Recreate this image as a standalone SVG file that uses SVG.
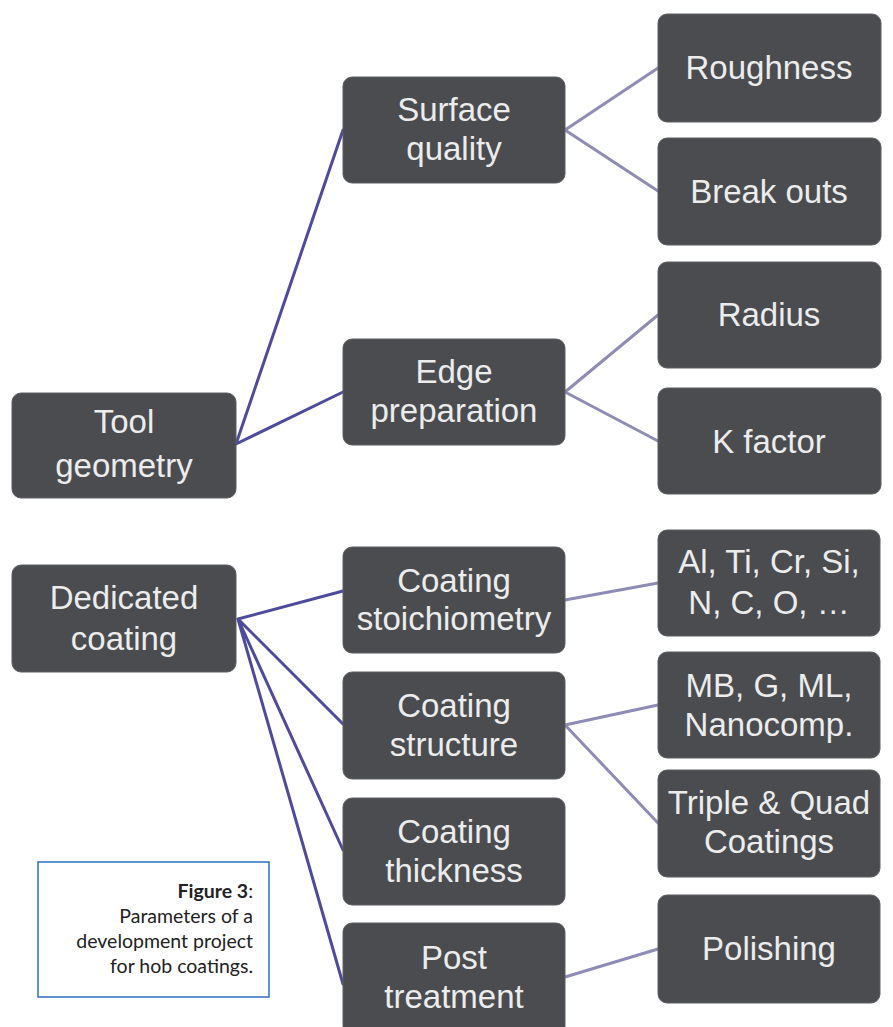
<svg xmlns="http://www.w3.org/2000/svg" width="893" height="1027" viewBox="0 0 893 1027">
<style>
.box{fill:#4a4c50;stroke:#5c5e62;stroke-width:1}
.t{fill:#ececec;font-family:"Liberation Sans",Arial,sans-serif;font-size:33px;text-anchor:middle}
.c1{stroke:#4e4b9c;stroke-width:3;fill:none;stroke-linecap:round}
.c2{stroke:#8e8cb4;stroke-width:3;fill:none;stroke-linecap:round}
.cap{font-family:Lato,"Open Sans",sans-serif;font-size:19.5px;fill:#222;text-anchor:end}
</style>
<rect width="893" height="1027" fill="#ffffff"/>
<g id="connectors">
<path class="c1" d="M236 444 L343 130 M236 444 L343 392"/>
<path class="c2" d="M565 130 L658 68 M565 130 L658 191"/>
<path class="c2" d="M565 392 L658 315 M565 392 L658 441"/>
<path class="c1" d="M238 619 L343 591 M238 619 L343 724 M238 619 L343 850 M238 619 L343 984"/>
<path class="c2" d="M565 600 L658 583"/>
<path class="c2" d="M565 725 L658 705 M565 725 L658 823"/>
<path class="c2" d="M565 977 L658 949"/>
</g>
<g id="tool-geometry"><rect class="box" x="12" y="393" width="224" height="105" rx="9"/><text class="t" x="124" y="433">Tool</text><text class="t" x="124" y="477">geometry</text></g>
<g id="surface-quality"><rect class="box" x="343" y="77" width="222" height="106" rx="9"/><text class="t" x="454" y="121">Surface</text><text class="t" x="454" y="160">quality</text></g>
<g id="roughness"><rect class="box" x="658" y="14" width="223" height="108" rx="9"/><text class="t" x="769" y="79">Roughness</text></g>
<g id="break-outs"><rect class="box" x="658" y="138" width="223" height="107" rx="9"/><text class="t" x="769" y="203">Break outs</text></g>
<g id="edge-preparation"><rect class="box" x="343" y="339" width="222" height="106" rx="9"/><text class="t" x="454" y="383">Edge</text><text class="t" x="454" y="422">preparation</text></g>
<g id="radius"><rect class="box" x="658" y="262" width="223" height="106" rx="9"/><text class="t" x="769" y="326">Radius</text></g>
<g id="k-factor"><rect class="box" x="658" y="388" width="223" height="106" rx="9"/><text class="t" x="769" y="453">K factor</text></g>
<g id="dedicated-coating"><rect class="box" x="12" y="565" width="224" height="107" rx="9"/><text class="t" x="124" y="609">Dedicated</text><text class="t" x="124" y="650">coating</text></g>
<g id="coating-stoichiometry"><rect class="box" x="343" y="547" width="222" height="106" rx="9"/><text class="t" x="454" y="592">Coating</text><text class="t" x="454" y="630">stoichiometry</text></g>
<g id="coating-structure"><rect class="box" x="343" y="672" width="222" height="107" rx="9"/><text class="t" x="454" y="717">Coating</text><text class="t" x="454" y="756">structure</text></g>
<g id="coating-thickness"><rect class="box" x="343" y="798" width="222" height="107" rx="9"/><text class="t" x="454" y="843">Coating</text><text class="t" x="454" y="882">thickness</text></g>
<g id="post-treatment"><rect class="box" x="343" y="923" width="222" height="112" rx="9"/><text class="t" x="454" y="969">Post</text><text class="t" x="454" y="1008">treatment</text></g>
<g id="elements"><rect class="box" x="658" y="530" width="222" height="106" rx="9"/><text class="t" x="769" y="573">Al, Ti, Cr, Si,</text><text class="t" x="769" y="614">N, C, O, …</text></g>
<g id="structures"><rect class="box" x="658" y="652" width="222" height="106" rx="9"/><text class="t" x="769" y="697">MB, G, ML,</text><text class="t" x="769" y="736">Nanocomp.</text></g>
<g id="triple-quad"><rect class="box" x="658" y="770" width="222" height="107" rx="9"/><text class="t" x="769" y="814">Triple &amp; Quad</text><text class="t" x="769" y="853">Coatings</text></g>
<g id="polishing"><rect class="box" x="658" y="895" width="222" height="108" rx="9"/><text class="t" x="769" y="960">Polishing</text></g>
<g id="caption"><rect x="38" y="862" width="231" height="135" fill="#ffffff" stroke="#2f6fbf" stroke-width="1.5"/>
<text class="cap" x="253" y="898"><tspan font-weight="bold">Figure 3</tspan>:</text>
<text class="cap" x="253" y="923">Parameters of a</text>
<text class="cap" x="253" y="948">development project</text>
<text class="cap" x="253" y="973">for hob coatings.</text></g>
</svg>
